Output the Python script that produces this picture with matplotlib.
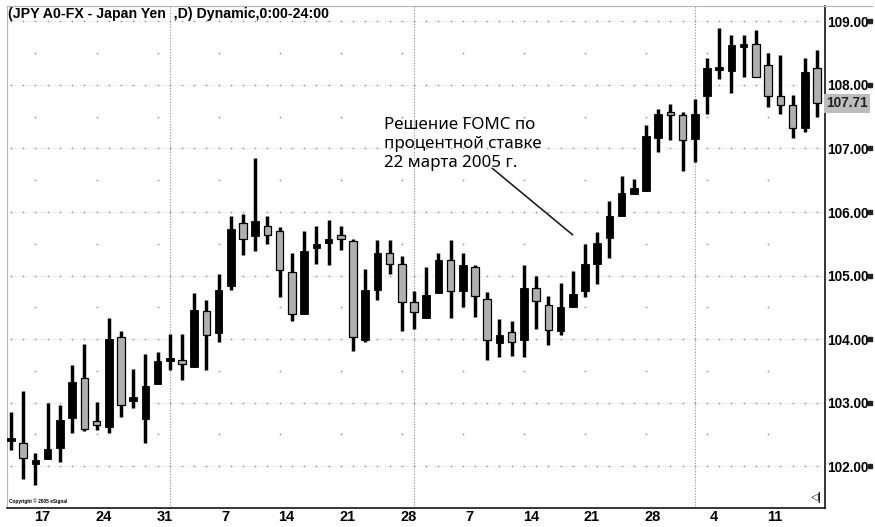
import matplotlib
matplotlib.use("Agg")
import matplotlib.pyplot as plt
import matplotlib.transforms as mtransforms
from matplotlib.lines import Line2D
import numpy as np
import pandas as pd

# daily JPY bars, 12 Jan - 14 Apr 2005
opens = [102.41, 102.36, 102.03, 102.11, 102.28, 102.76, 103.39, 102.71, 102.62, 104.04,
         103.03, 102.75, 103.29, 103.67, 103.67, 103.56, 104.44, 104.09, 104.84, 105.82,
         105.62, 105.78, 105.70, 105.05, 104.40, 105.43, 105.51, 105.64, 105.55, 103.98,
         104.78, 105.35, 105.18, 104.58, 104.33, 104.72, 105.24, 104.75, 105.14, 104.63,
         103.94, 104.11, 103.98, 104.81, 104.53, 104.12, 104.50, 104.76, 105.18, 105.59,
         105.93, 106.29, 106.33, 107.16, 107.56, 107.53, 107.15, 107.82, 108.24, 108.22,
         108.60, 108.64, 108.31, 107.83, 107.69, 107.32, 108.26]
highs = [102.85, 103.19, 102.20, 103.00, 102.97, 103.60, 103.93, 103.01, 104.33, 104.12,
         103.53, 103.77, 103.79, 104.08, 104.08, 104.73, 104.62, 105.03, 105.94, 105.97,
         106.85, 105.94, 105.77, 105.36, 105.70, 105.78, 105.87, 105.78, 105.57, 105.10,
         105.56, 105.56, 105.31, 104.76, 105.14, 105.36, 105.56, 105.36, 105.17, 104.74,
         104.32, 104.28, 105.17, 105.00, 104.68, 104.88, 105.07, 105.49, 105.68, 106.17,
         106.57, 106.52, 107.37, 107.62, 107.70, 107.57, 107.78, 108.42, 108.89, 108.79,
         108.79, 108.87, 108.51, 108.47, 107.84, 108.42, 108.55]
lows = [102.26, 101.80, 101.71, 102.11, 102.06, 102.52, 102.56, 102.57, 102.52, 102.77,
        102.92, 102.37, 103.29, 103.52, 103.36, 103.56, 103.51, 103.95, 104.77, 105.33,
        105.38, 105.50, 104.66, 104.29, 104.40, 105.18, 105.17, 105.40, 103.82, 103.95,
        104.62, 105.03, 104.12, 104.16, 104.33, 104.72, 104.34, 104.51, 104.35, 103.67,
        103.72, 103.73, 103.72, 104.16, 103.90, 104.07, 104.50, 104.67, 104.86, 105.28,
        105.93, 106.28, 106.33, 106.95, 107.13, 106.65, 106.78, 107.54, 108.09, 107.88,
        108.12, 108.13, 107.66, 107.54, 107.16, 107.26, 107.49]
closes = [102.43, 102.13, 102.09, 102.27, 102.73, 103.33, 102.58, 102.65, 104.00, 102.97,
          103.09, 103.27, 103.66, 103.69, 103.61, 104.46, 104.06, 104.77, 105.74, 105.57,
          105.86, 105.64, 105.09, 104.40, 105.38, 105.50, 105.57, 105.57, 104.03, 104.78,
          105.35, 105.18, 104.59, 104.42, 104.70, 105.24, 104.75, 105.16, 104.68, 103.98,
          104.07, 103.95, 104.81, 104.60, 104.14, 104.51, 104.71, 105.18, 105.52, 105.94,
          106.30, 106.38, 107.19, 107.55, 107.53, 107.13, 107.55, 108.27, 108.28, 108.63,
          108.63, 108.13, 107.82, 107.69, 107.32, 108.21, 107.71]
price_levels = [102, 103, 104, 105, 106, 107, 108, 109]
note = "Решение FOMC по\nпроцентной ставке\n22 марта 2005 г."
note_xy = (46.0, 105.64)
note_from = (39.4, 106.69)

dates = pd.bdate_range("2005-01-12", periods=len(opens))
x = np.arange(len(dates))
o = np.array(opens)
c = np.array(closes)
up = c >= o

fig = plt.figure(figsize=(8.75, 5.27), dpi=100)
ax = fig.add_axes([0.008, 0.037, 0.9343, 0.9513])
ax.set_xlim(-0.33, 66.62)
ax.set_ylim(101.35, 109.24)

# grid: dotted rows at whole yen, sparse dots at half yen on fridays
for lev in price_levels:
    ax.axhline(lev, color="#d4d4d4", lw=0.6, ls=(0, (1, 2)), zorder=0)
    ax.plot(x, [lev] * len(x), ls="none", marker="+", ms=2.0, mew=0.6, color="#a0a0a0", zorder=0)
fridays = x[dates.weekday == 4]
for lev in price_levels[:-1]:
    ax.plot(fridays, [lev + 0.5] * len(fridays), ls="none", marker="+", ms=2.0, mew=0.6,
            color="#a0a0a0", zorder=0)

month_end = x[:-1][dates.month[:-1] != dates.month[1:]]
for m in month_end:
    ax.axvline(m, color="#8c8c8c", lw=0.8, ls=(0, (1, 1.5)), zorder=0)

# bars
ax.vlines(x, lows, highs, color="black", lw=2.5, zorder=2)
bottom = np.minimum(o, c)
height = np.abs(c - o)
small = height < 0.05
bottom = np.where(small, (o + c) / 2 - 0.025, bottom)
height = np.where(small, 0.05, height)
ax.bar(x[up], height[up], bottom=bottom[up], width=0.62, color="black",
       edgecolor="black", lw=0.6, zorder=3)
ax.bar(x[~up], height[~up], bottom=bottom[~up], width=0.62, color="#b0b0b0",
       edgecolor="black", lw=0.9, zorder=3)

# axes look
for s in ["left", "top"]:
    ax.spines[s].set_color("#b5b5b5")
    ax.spines[s].set_linewidth(0.8)
for s in ["right", "bottom"]:
    ax.spines[s].set_color("black")
    ax.spines[s].set_linewidth(1.1)
fig.add_artist(Line2D([0.94, 0.997], [0.9883, 0.9883], color="#b5b5b5", lw=0.8))

ax.yaxis.tick_right()
ax.set_yticks(price_levels)
ax.set_yticklabels([f"{v:.2f}" for v in price_levels], fontsize=9.8, fontweight="bold",
                   family="Liberation Sans")
ax.tick_params(axis="y", length=0, pad=2)
trans = mtransforms.blended_transform_factory(ax.transAxes, ax.transData)
ax.plot([1.0557] * len(price_levels), price_levels, ls="none", marker="s", ms=2.6,
        color="#222222", transform=trans, clip_on=False)
ax.text(1.002, closes[-1], "107.71", transform=trans, ha="left", va="center",
        fontsize=9.8, fontweight="bold", family="Liberation Sans", color="#222222",
        bbox=dict(boxstyle="square,pad=0.18", fc="#bdbdbd", ec="none"))

mondays = x[dates.weekday == 0]
ax.set_xticks(mondays - 0.42)
ax.set_xticklabels([str(d.day) for d in dates[dates.weekday == 0]], fontsize=10.5,
                   fontweight="bold", family="Liberation Sans")
ax.tick_params(axis="x", length=0, pad=2)

fig.text(0.009, 0.987, "(JPY A0-FX - Japan Yen  ,D) Dynamic,0:00-24:00", ha="left", va="top",
         fontsize=10.2, fontweight="bold", family="Liberation Sans")
ax.text(0.002, 0.006, "Copyright \u00a9 2005 eSignal", transform=ax.transAxes, fontsize=3.4,
        ha="left", va="bottom", family="Liberation Sans", fontweight="bold")
ax.text(0.997, 0.008, "\u25c1|", transform=ax.transAxes, fontsize=7, ha="right", va="bottom",
        fontweight="bold")

ax.text(30.55, 107.49, note, ha="left", va="top", fontsize=12.2, family="Noto Sans",
        linespacing=1.22)
ax.annotate("", xy=note_xy, xytext=note_from,
            arrowprops=dict(arrowstyle="-", color="#111111", lw=1.1, shrinkA=0, shrinkB=0))

fig.savefig("out.png", dpi=100)
